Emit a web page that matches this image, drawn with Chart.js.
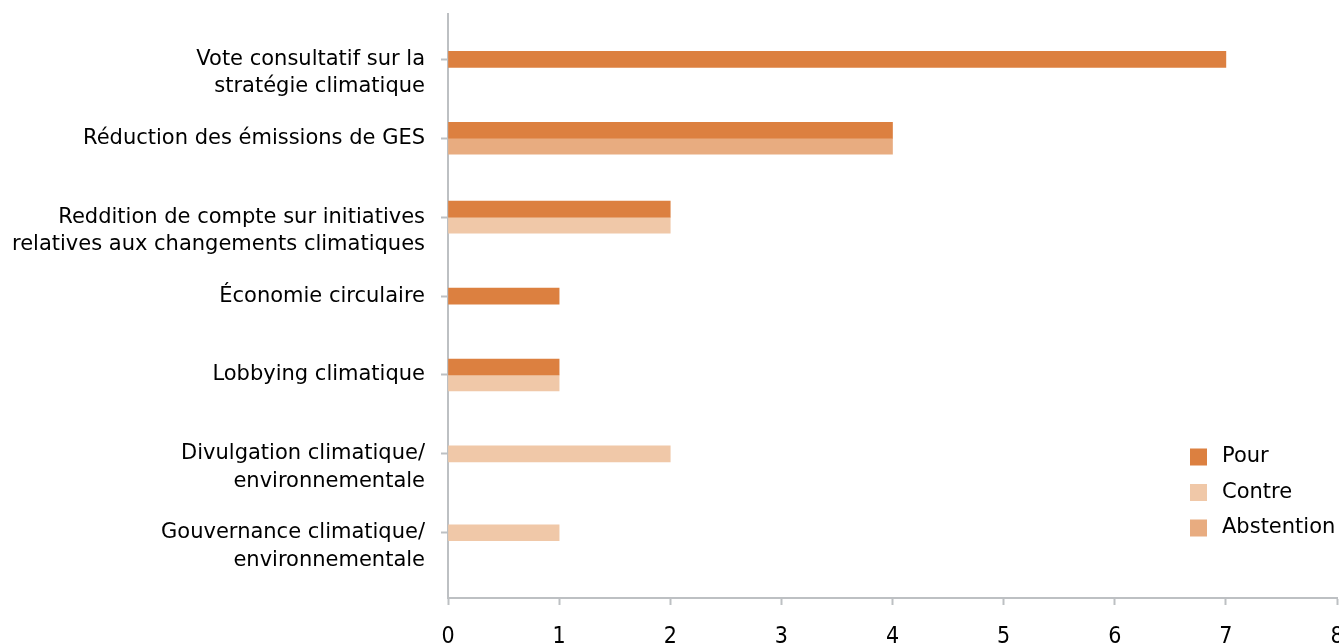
<!DOCTYPE html>
<html><head><meta charset="utf-8">
<script src="https://cdn.jsdelivr.net/npm/chart.js@4"></script>
<style>html,body{margin:0;padding:0;background:#fff;overflow:hidden;}</style>
</head><body>
<canvas id="c" width="1339" height="643"></canvas>
<script>
const categories = [
  ['Vote consultatif sur la', 'stratégie climatique'],
  'Réduction des émissions de GES',
  ['Reddition de compte sur initiatives', 'relatives aux changements climatiques'],
  'Économie circulaire',
  'Lobbying climatique',
  ['Divulgation climatique/', 'environnementale'],
  ['Gouvernance climatique/', 'environnementale']
];
const seriesNames = ['Pour', 'Contre', 'Abstention'];
const pour       = [7, 4, 2, 1, 1, null, null];
const contre     = [null, null, 2, null, 1, 2, 1];
const abstention = [null, 4, null, null, null, null, null];
const xTickValues = [0, 1, 2, 3, 4, 5, 6, 7, 8];

const colors = ['#DC8040', '#F0C8A8', '#E8AC80'];
const FONT = "'DejaVu Sans', 'Noto Sans', sans-serif";
const XFONT = "'DejaVu Sans Condensed', 'Liberation Sans Narrow', 'DejaVu Sans', sans-serif";
const AXIS = '#BDC0C3';

const toPoints = arr => arr.map((v, i) => ({ x: v, y: i }));

const sideLegend = {
  id: 'sideLegend',
  afterDraw(chart) {
    const ctx = chart.ctx;
    ctx.save();
    ctx.font = '21px ' + FONT;
    ctx.textBaseline = 'middle';
    ctx.textAlign = 'left';
    chart.data.datasets.forEach((ds, i) => {
      const cy = 457 + i * 35.5;
      ctx.fillStyle = ds.backgroundColor;
      ctx.fillRect(1190, cy - 8.5, 17, 17);
      ctx.fillStyle = '#000';
      ctx.fillText(ds.label, 1222, cy);
    });
    ctx.restore();
  }
};

new Chart(document.getElementById('c'), {
  type: 'bar',
  data: {
    datasets: [
      { label: seriesNames[0], data: toPoints(pour), backgroundColor: colors[0] },
      { label: seriesNames[1], data: toPoints(contre), backgroundColor: colors[1] },
      { label: seriesNames[2], data: toPoints(abstention), backgroundColor: colors[2] }
    ]
  },
  options: {
    responsive: false,
    animation: false,
    devicePixelRatio: 1,
    indexAxis: 'y',
    datasets: { bar: { skipNull: true, barThickness: 16, borderWidth: 0 } },
    layout: { padding: { top: 14, right: 2, left: 0, bottom: 0 } },
    plugins: { legend: { display: false }, tooltip: { enabled: false } },
    scales: {
      x: {
        type: 'linear', min: 0, max: 8, position: 'bottom', offset: false,
        afterBuildTicks: s => { s.ticks = xTickValues.map(v => ({ value: v })); },
        afterFit: s => { s.height = 45; s.paddingLeft = 0; s.paddingRight = 0; s.paddingTop = 0; s.paddingBottom = 0; },
        grid: { display: true, offset: false, drawOnChartArea: false, drawTicks: true, tickLength: 7, tickColor: AXIS, tickWidth: 2 },
        border: { display: true, color: AXIS, width: 2 },
        ticks: { font: { family: XFONT, size: 23 }, color: '#000', padding: 18, maxRotation: 0, autoSkip: false }
      },
      y: {
        type: 'linear', reverse: true, min: -0.575, max: 6.827, offset: false,
        afterBuildTicks: s => { s.ticks = categories.map((_, i) => ({ value: i })); },
        afterFit: s => { s.width = 448; s.paddingTop = 0; s.paddingBottom = 0; s.paddingLeft = 0; s.paddingRight = 0; },
        grid: { display: true, offset: false, drawOnChartArea: false, drawTicks: true, tickLength: 7, tickColor: AXIS, tickWidth: 2 },
        border: { display: true, color: AXIS, width: 2 },
        ticks: {
          autoSkip: false,
          font: { family: FONT, size: 21, lineHeight: 1.3 },
          color: '#000', padding: 16,
          callback: v => {
            const l = categories[v];
            return Array.isArray(l) ? ['', ...l] : l;
          }
        }
      }
    }
  },
  plugins: [sideLegend]
});
</script>
</body></html>
